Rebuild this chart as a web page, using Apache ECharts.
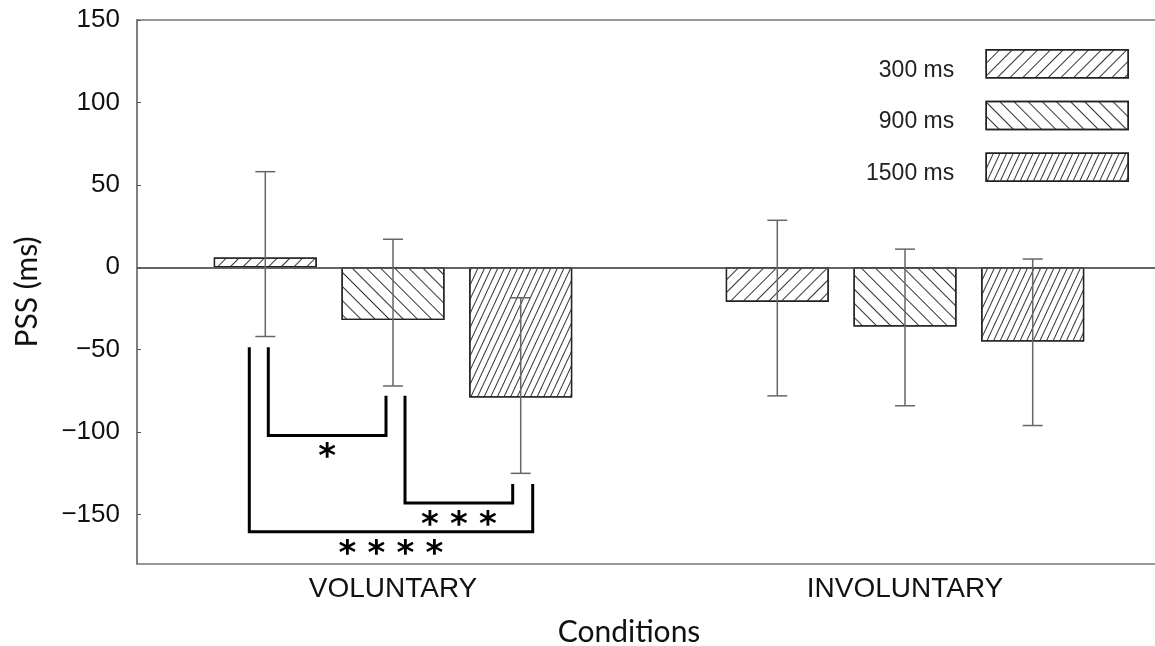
<!DOCTYPE html>
<html>
<head>
<meta charset="utf-8">
<script src="https://cdn.jsdelivr.net/npm/echarts@6/dist/echarts.min.js"></script>
<style>
html,body{margin:0;padding:0;background:#fff;}
#main{width:1155px;height:646px;}
</style>
</head>
<body>
<div id="main"></div>
<script>
// ---- data ----
const categories = ['VOLUNTARY', 'INVOLUNTARY'];
const seriesNames = ['300 ms', '900 ms', '1500 ms'];
const pss300 = [6, -21];
const pss900 = [-32, -36];
const pss1500 = [-79, -45];
const errLow300 = [-42, -78];
const errHigh300 = [58, 28.5];
const errLow900 = [-72, -84];
const errHigh900 = [17, 11];
const errLow1500 = [-125, -96];
const errHigh1500 = [-18.5, 5];
const yTicks = [-150, -100, -50, 0, 50, 100, 150];
// significance brackets (within VOLUNTARY)
const bracketCategory = [0, 0, 0];
const bracketFromBar = [0, 1, 0];
const bracketToBar = [1, 2, 2];
const bracketLeftTop = [-48.5, -78, -48.5];
const bracketRightTop = [-78, -131.5, -131.5];
const bracketBottom = [-102, -143, -160.5];
const bracketStars = [1, 3, 4];

// ---- style constants ----
const CAT_GAP = 0.30, BAR_GAP = 0.24, NBARS = 3;
const legLeftOff = [3, 12, -16];
const legRightOff = [-7, -8, 12];

function barCenterX(api, cat, barIdx) {
  const cx = api.coord([cat, 0])[0];
  const bw = api.size([1, 0])[0];
  const barW = bw * (1 - CAT_GAP) / (NBARS + (NBARS - 1) * BAR_GAP);
  return cx + (barIdx - (NBARS - 1) / 2) * barW * (1 + BAR_GAP);
}

const decals = [
  { symbol: 'rect', symbolSize: 1, dashArrayX: [1, 0], dashArrayY: [1, 7.5], rotation: -Math.PI / 4, color: '#333' },
  { symbol: 'rect', symbolSize: 1, dashArrayX: [1, 0], dashArrayY: [1, 8.5], rotation: Math.PI / 4, color: '#333' },
  { symbol: 'rect', symbolSize: 1, dashArrayX: [1, 0], dashArrayY: [1, 4.2], rotation: -65 * Math.PI / 180, color: '#333' }
];
const values = [pss300, pss900, pss1500];
const lows = [errLow300, errLow900, errLow1500];
const highs = [errHigh300, errHigh900, errHigh1500];

const barSeries = seriesNames.map((name, i) => ({
  name: name,
  type: 'bar',
  data: values[i],
  barGap: (BAR_GAP * 100) + '%',
  barCategoryGap: (CAT_GAP * 100) + '%',
  itemStyle: { color: '#fff', borderColor: '#222', borderWidth: 1.3, decal: decals[i] },
  silent: true,
  markLine: i === 0 ? {
    silent: true, symbol: 'none', label: { show: false },
    lineStyle: { color: '#555', width: 1.5, type: 'solid' },
    data: [{ yAxis: 0 }]
  } : undefined
}));

const errData = [];
for (let b = 0; b < 3; b++) {
  for (let c = 0; c < categories.length; c++) {
    errData.push([c, b, lows[b][c], highs[b][c]]);
  }
}

const errSeries = {
  type: 'custom',
  silent: true,
  z: 5,
  data: errData,
  encode: { x: 0, y: [2, 3] },
  renderItem: function (params, api) {
    const cat = api.value(0), b = api.value(1);
    const x = barCenterX(api, cat, b);
    const yl = api.coord([cat, api.value(2)])[1];
    const yh = api.coord([cat, api.value(3)])[1];
    const st = { stroke: '#666', lineWidth: 1.5 };
    const hw = 10;
    return { type: 'group', children: [
      { type: 'line', shape: { x1: x, y1: yl, x2: x, y2: yh }, style: st },
      { type: 'line', shape: { x1: x - hw, y1: yl, x2: x + hw, y2: yl }, style: st },
      { type: 'line', shape: { x1: x - hw, y1: yh, x2: x + hw, y2: yh }, style: st }
    ]};
  }
};

const bracketData = bracketCategory.map((c, i) =>
  [c, bracketFromBar[i], bracketToBar[i], bracketLeftTop[i], bracketRightTop[i], bracketBottom[i], bracketStars[i], i]);

const bracketSeries = {
  type: 'custom',
  silent: true,
  z: 6,
  data: bracketData,
  encode: { x: 0, y: [3, 4, 5] },
  renderItem: function (params, api) {
    const cat = api.value(0);
    const i = api.value(7);
    const xL = barCenterX(api, cat, api.value(1)) + legLeftOff[i];
    const xR = barCenterX(api, cat, api.value(2)) + legRightOff[i];
    const yLT = api.coord([cat, api.value(3)])[1];
    const yRT = api.coord([cat, api.value(4)])[1];
    const yB = api.coord([cat, api.value(5)])[1];
    const children = [{
      type: 'polyline',
      shape: { points: [[xL, yLT], [xL, yB], [xR, yB], [xR, yRT]] },
      style: { stroke: '#000', lineWidth: 3, fill: null, lineJoin: 'miter' }
    }];
    const n = api.value(6);
    const mid = (xL + xR) / 2;
    const sp = 29;
    for (let k = 0; k < n; k++) {
      children.push({
        type: 'text',
        style: {
          text: '*', x: mid + (k - (n - 1) / 2) * sp, y: yB + 6,
          font: 'bold 34px "DejaVu Sans"', fill: '#000', align: 'center', verticalAlign: 'top'
        }
      });
    }
    return { type: 'group', children: children };
  }
};

const chart = echarts.init(document.getElementById('main'), null, { renderer: 'canvas' });
chart.setOption({
  animation: false,
  backgroundColor: '#fff',
  grid: { left: 137, width: 1024, top: 20, bottom: 82, show: true, borderColor: '#777', borderWidth: 1.5, backgroundColor: 'transparent', outerBoundsMode: 'none', containLabel: false },
  legend: {
    data: seriesNames,
    orient: 'vertical',
    right: 21, top: 44,
    itemWidth: 142, itemHeight: 28, itemGap: 19,
    align: 'right',
    icon: 'rect',
    selectedMode: false,
    itemStyle: { borderColor: '#222', borderWidth: 1.5 },
    formatter: '{t|{name}}',
    textStyle: {
      rich: {
        t: { fontSize: 23, fontFamily: 'Liberation Sans', color: '#222', width: 100, align: 'right', padding: [13, 27, 0, 0] }
      }
    }
  },
  xAxis: {
    type: 'category',
    data: categories,
    axisLine: { lineStyle: { color: '#777', width: 1.5 } },
    axisTick: { alignWithLabel: true, inside: true, length: 5, lineStyle: { color: '#555' } },
    axisLabel: { fontSize: 28, fontFamily: 'Liberation Sans', color: '#111', margin: 11 },
    splitLine: { show: false }
  },
  yAxis: {
    type: 'value',
    min: -180, max: 150,
    name: 'PSS (ms)',
    nameLocation: 'middle',
    nameGap: 95,
    nameRotate: 90,
    nameTextStyle: { fontSize: 30, fontFamily: 'Lato', color: '#111' },
    axisLine: { show: true, lineStyle: { color: '#777', width: 1.5 } },
    axisTick: { show: true, inside: true, length: 4, customValues: yTicks, lineStyle: { color: '#555' } },
    axisLabel: {
      fontSize: 26, fontFamily: 'Liberation Sans', color: '#111', margin: 17, customValues: yTicks,
      formatter: function (v) { return String(v).replace('-', '\u2212'); }
    },
    splitLine: { show: false }
  },
  graphic: [{
    type: 'text', x: 629, y: 632,
    style: { text: 'Conditions', font: '30px Lato', fill: '#111', textAlign: 'center', textVerticalAlign: 'middle' }
  }],
  series: barSeries.concat([errSeries, bracketSeries])
});
</script>
</body>
</html>
